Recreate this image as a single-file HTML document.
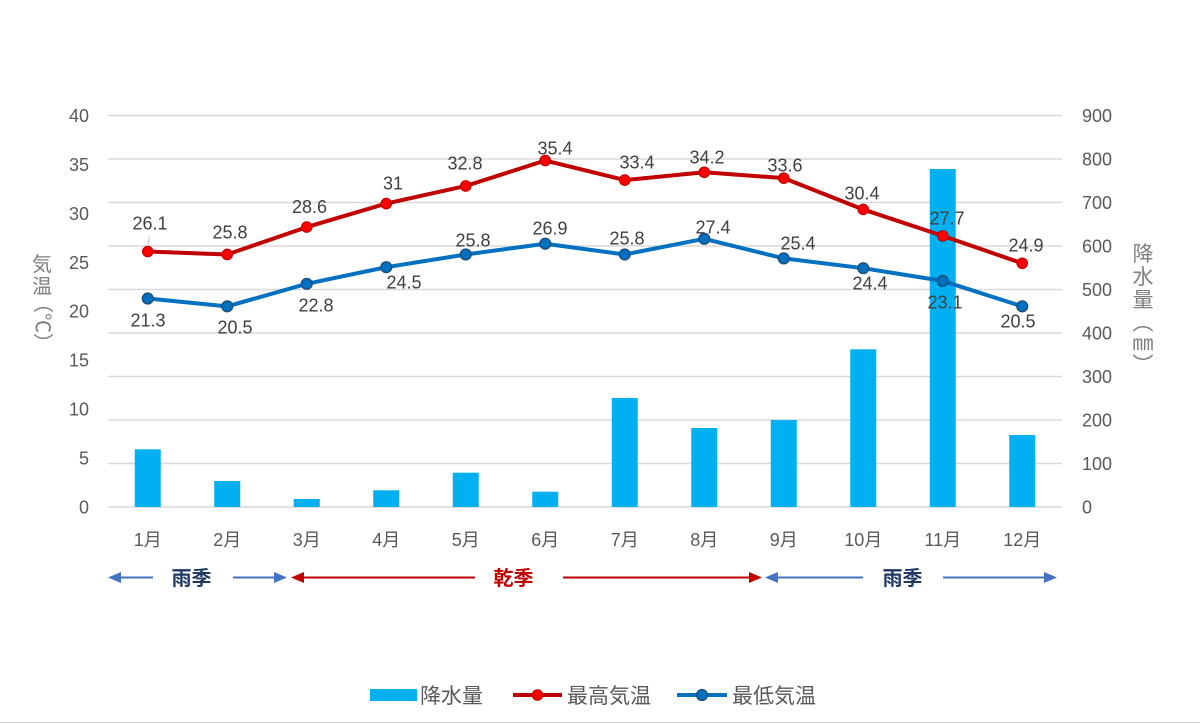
<!DOCTYPE html>
<html>
<head>
<meta charset="utf-8">
<style>
  html,body{margin:0;padding:0;background:#fff;}
  svg{display:block;}
  text{font-family:"Liberation Sans","Noto Sans CJK JP",sans-serif;}
</style>
</head>
<body>
<svg width="1200" height="723" viewBox="0 0 1200 723" xmlns="http://www.w3.org/2000/svg">
  <rect x="0" y="0" width="1200" height="723" fill="#ffffff"/>

  <!-- gridlines -->
  <g stroke="#d9d9d9" stroke-width="1.4">
    <line x1="108" y1="507" x2="1062" y2="507"/>
    <line x1="108" y1="463.5" x2="1062" y2="463.5"/>
    <line x1="108" y1="420" x2="1062" y2="420"/>
    <line x1="108" y1="376.5" x2="1062" y2="376.5"/>
    <line x1="108" y1="333" x2="1062" y2="333"/>
    <line x1="108" y1="289.5" x2="1062" y2="289.5"/>
    <line x1="108" y1="246" x2="1062" y2="246"/>
    <line x1="108" y1="202.5" x2="1062" y2="202.5"/>
    <line x1="108" y1="159" x2="1062" y2="159"/>
    <line x1="108" y1="115.5" x2="1062" y2="115.5"/>
  </g>

  <!-- left axis labels -->
  <g fill="#595959" font-size="18" text-anchor="end">
    <text x="89" y="513.5">0</text>
    <text x="89" y="464.5">5</text>
    <text x="89" y="415.6">10</text>
    <text x="89" y="366.7">15</text>
    <text x="89" y="317.7">20</text>
    <text x="89" y="268.8">25</text>
    <text x="89" y="219.9">30</text>
    <text x="89" y="170.9">35</text>
    <text x="89" y="122">40</text>
  </g>

  <!-- right axis labels -->
  <g fill="#595959" font-size="18" text-anchor="start">
    <text x="1082" y="513.5">0</text>
    <text x="1082" y="470">100</text>
    <text x="1082" y="426.5">200</text>
    <text x="1082" y="383">300</text>
    <text x="1082" y="339.5">400</text>
    <text x="1082" y="296">500</text>
    <text x="1082" y="252.5">600</text>
    <text x="1082" y="209">700</text>
    <text x="1082" y="165.5">800</text>
    <text x="1082" y="122">900</text>
  </g>

  <!-- left axis title -->
  <g fill="#7f7f7f" font-size="20" text-anchor="middle">
    <text x="42" y="271">気</text>
    <text x="42" y="293">温</text>
    <text x="0" y="0" transform="translate(42,323) rotate(90)" dominant-baseline="central">（℃）</text>
  </g>

  <!-- right axis title -->
  <g fill="#7f7f7f" font-size="21" text-anchor="middle">
    <text x="1143" y="261">降</text>
    <text x="1143" y="284">水</text>
    <text x="1143" y="307">量</text>
    <text x="1143" y="330">︵</text>
    <text x="1143" y="350">㎜</text>
    <text x="1143" y="372">︶</text>
  </g>

  <!-- bars -->
  <g fill="#00b0f0">
    <rect x="134.75" y="449.3" width="26" height="57.7"/>
    <rect x="214.25" y="481" width="26" height="26"/>
    <rect x="293.75" y="499" width="26" height="8"/>
    <rect x="373.25" y="490.3" width="26" height="16.7"/>
    <rect x="452.75" y="472.7" width="26" height="34.3"/>
    <rect x="532.25" y="491.7" width="26" height="15.3"/>
    <rect x="611.75" y="398" width="26" height="109"/>
    <rect x="691.25" y="428" width="26" height="79"/>
    <rect x="770.75" y="420" width="26" height="87"/>
    <rect x="850.25" y="349.3" width="26" height="157.7"/>
    <rect x="929.75" y="169" width="26" height="338"/>
    <rect x="1009.25" y="435" width="26" height="72"/>
  </g>

  <!-- month labels -->
  <g fill="#595959" font-size="18" text-anchor="middle">
    <text x="147.75" y="546">1月</text>
    <text x="227.25" y="546">2月</text>
    <text x="306.75" y="546">3月</text>
    <text x="386.25" y="546">4月</text>
    <text x="465.75" y="546">5月</text>
    <text x="545.25" y="546">6月</text>
    <text x="624.75" y="546">7月</text>
    <text x="704.25" y="546">8月</text>
    <text x="783.75" y="546">9月</text>
    <text x="863.25" y="546">10月</text>
    <text x="942.75" y="546">11月</text>
    <text x="1022.25" y="546">12月</text>
  </g>

  <!-- max temp line -->
  <polyline fill="none" stroke="#c00000" stroke-width="4" stroke-linejoin="round"
    points="147.75,251.55 227.25,254.48 306.75,227.08 386.25,203.59 465.75,185.97 545.25,160.52 624.75,180.1 704.25,172.27 783.75,178.14 863.25,209.46 942.75,235.89 1022.25,263.29"/>
  <g fill="#ff0000" stroke="#c00000" stroke-width="1.2">
    <circle cx="147.75" cy="251.55" r="5.2"/>
    <circle cx="227.25" cy="254.48" r="5.2"/>
    <circle cx="306.75" cy="227.08" r="5.2"/>
    <circle cx="386.25" cy="203.59" r="5.2"/>
    <circle cx="465.75" cy="185.97" r="5.2"/>
    <circle cx="545.25" cy="160.52" r="5.2"/>
    <circle cx="624.75" cy="180.1" r="5.2"/>
    <circle cx="704.25" cy="172.27" r="5.2"/>
    <circle cx="783.75" cy="178.14" r="5.2"/>
    <circle cx="863.25" cy="209.46" r="5.2"/>
    <circle cx="942.75" cy="235.89" r="5.2"/>
    <circle cx="1022.25" cy="263.29" r="5.2"/>
  </g>

  <!-- min temp line -->
  <polyline fill="none" stroke="#0070c0" stroke-width="4" stroke-linejoin="round"
    points="147.75,298.53 227.25,306.36 306.75,283.84 386.25,267.21 465.75,254.48 545.25,243.72 624.75,254.48 704.25,238.82 783.75,258.4 863.25,268.18 942.75,280.91 1022.25,306.36"/>
  <g fill="#0070c0" stroke="#1f4e79" stroke-width="1.4">
    <circle cx="147.75" cy="298.53" r="5.4"/>
    <circle cx="227.25" cy="306.36" r="5.4"/>
    <circle cx="306.75" cy="283.84" r="5.4"/>
    <circle cx="386.25" cy="267.21" r="5.4"/>
    <circle cx="465.75" cy="254.48" r="5.4"/>
    <circle cx="545.25" cy="243.72" r="5.4"/>
    <circle cx="624.75" cy="254.48" r="5.4"/>
    <circle cx="704.25" cy="238.82" r="5.4"/>
    <circle cx="783.75" cy="258.4" r="5.4"/>
    <circle cx="863.25" cy="268.18" r="5.4"/>
    <circle cx="942.75" cy="280.91" r="5.4"/>
    <circle cx="1022.25" cy="306.36" r="5.4"/>
  </g>

  <!-- leader line for 26.1 -->
  <line x1="149.5" y1="236.5" x2="148" y2="245" stroke="#bfbfbf" stroke-width="1"/>

  <!-- data labels max -->
  <g fill="#404040" font-size="18" text-anchor="middle">
    <text x="150" y="229.5">26.1</text>
    <text x="230" y="238.5">25.8</text>
    <text x="309.5" y="213">28.6</text>
    <text x="393" y="189.5">31</text>
    <text x="465" y="169.5">32.8</text>
    <text x="555" y="154.5">35.4</text>
    <text x="637" y="168.5">33.4</text>
    <text x="707" y="163.5">34.2</text>
    <text x="785" y="171.5">33.6</text>
    <text x="862" y="199.5">30.4</text>
    <text x="947" y="224.5">27.7</text>
    <text x="1026" y="251.5">24.9</text>
  </g>
  <!-- data labels min -->
  <g fill="#404040" font-size="18" text-anchor="middle">
    <text x="148" y="326.5">21.3</text>
    <text x="235" y="333.5">20.5</text>
    <text x="316" y="311.5">22.8</text>
    <text x="404" y="288.5">24.5</text>
    <text x="473" y="246.5">25.8</text>
    <text x="550" y="234.5">26.9</text>
    <text x="627" y="244.5">25.8</text>
    <text x="713" y="233.5">27.4</text>
    <text x="798" y="249.5">25.4</text>
    <text x="870" y="289.5">24.4</text>
    <text x="945" y="308.5">23.1</text>
    <text x="1018" y="327.5">20.5</text>
  </g>

  <!-- season arrows -->
  <g stroke-width="2">
    <!-- left rainy -->
    <line x1="118" y1="577.5" x2="153" y2="577.5" stroke="#4472c4"/>
    <polygon points="108,577.5 121,572 121,583" fill="#4472c4"/>
    <line x1="233" y1="577.5" x2="276" y2="577.5" stroke="#4472c4"/>
    <polygon points="287,577.5 274,572 274,583" fill="#4472c4"/>
    <!-- dry -->
    <polygon points="291,577.5 304,572 304,583" fill="#c00000"/>
    <line x1="302" y1="577.5" x2="475" y2="577.5" stroke="#c00000"/>
    <line x1="563" y1="577.5" x2="750" y2="577.5" stroke="#c00000"/>
    <polygon points="762,577.5 749,572 749,583" fill="#c00000"/>
    <!-- right rainy -->
    <polygon points="765,577.5 778,572 778,583" fill="#4472c4"/>
    <line x1="776" y1="577.5" x2="863" y2="577.5" stroke="#4472c4"/>
    <line x1="943" y1="577.5" x2="1046" y2="577.5" stroke="#4472c4"/>
    <polygon points="1057,577.5 1044,572 1044,583" fill="#4472c4"/>
  </g>
  <g font-size="20" font-weight="bold" text-anchor="middle">
    <text x="191.5" y="585" fill="#203864">雨季</text>
    <text x="513.5" y="585" fill="#c00000">乾季</text>
    <text x="902.5" y="585" fill="#203864">雨季</text>
  </g>

  <!-- legend -->
  <rect x="370" y="689" width="47" height="12" fill="#00b0f0"/>
  <text x="420" y="703" font-size="21" fill="#595959">降水量</text>
  <line x1="513" y1="695" x2="562" y2="695" stroke="#c00000" stroke-width="4"/>
  <circle cx="537.5" cy="695" r="5.2" fill="#ff0000" stroke="#c00000" stroke-width="1.2"/>
  <text x="567" y="703" font-size="21" fill="#595959">最高気温</text>
  <line x1="677" y1="695" x2="727" y2="695" stroke="#0070c0" stroke-width="4"/>
  <circle cx="702" cy="695" r="5.4" fill="#0070c0" stroke="#1f4e79" stroke-width="1.4"/>
  <text x="732" y="703" font-size="21" fill="#595959">最低気温</text>

  <!-- bottom border -->
  <line x1="0" y1="722.5" x2="1200" y2="722.5" stroke="#d0d0d0" stroke-width="1"/>
</svg>
</body>
</html>
